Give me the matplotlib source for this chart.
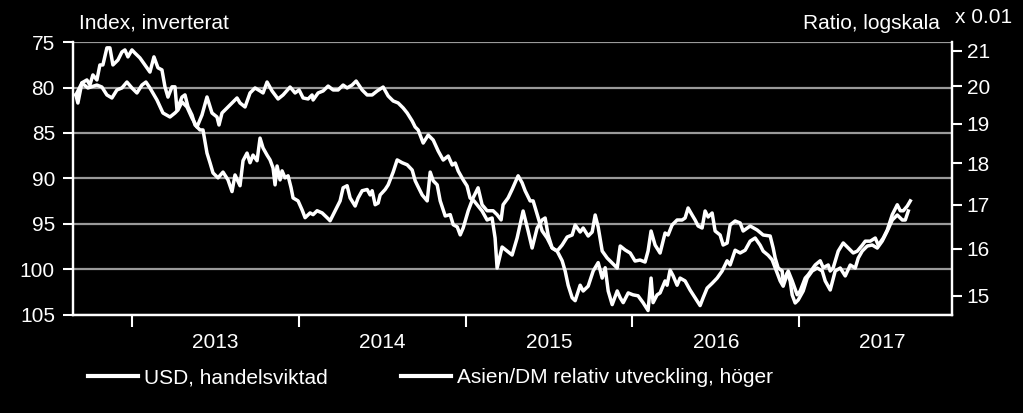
import numpy as np
import matplotlib.pyplot as plt
from matplotlib.ticker import FixedLocator, NullFormatter, NullLocator, FixedFormatter

plt.rcParams['font.family'] = ['Liberation Sans', 'DejaVu Sans']

# USD, handelsviktad (left axis, inverted) - decimal years
usd_t = [2012.664, 2012.700, 2012.736, 2012.790, 2012.820, 2012.850, 2012.880, 2012.910, 2012.940, 2012.970,
         2013.000, 2013.030, 2013.060, 2013.084, 2013.108, 2013.150, 2013.186, 2013.228, 2013.258, 2013.276,
         2013.300, 2013.330, 2013.360, 2013.390, 2013.420, 2013.450, 2013.480, 2013.510, 2013.522, 2013.540,
         2013.570, 2013.606, 2013.630, 2013.648, 2013.678, 2013.708, 2013.738, 2013.768, 2013.786, 2013.810,
         2013.840, 2013.876, 2013.906, 2013.948, 2013.978, 2014.002, 2014.026, 2014.056, 2014.080, 2014.086,
         2014.116, 2014.146, 2014.176, 2014.206, 2014.236, 2014.266, 2014.290, 2014.320, 2014.344, 2014.380,
         2014.410, 2014.440, 2014.470, 2014.506, 2014.536, 2014.566, 2014.596, 2014.626, 2014.650, 2014.680,
         2014.698, 2014.716, 2014.746, 2014.776, 2014.806, 2014.836, 2014.866, 2014.896, 2014.920, 2014.938,
         2014.956, 2014.986, 2015.009, 2015.027, 2015.051, 2015.075, 2015.099, 2015.129, 2015.159, 2015.177,
         2015.189, 2015.219, 2015.249, 2015.279, 2015.309, 2015.345, 2015.375, 2015.399, 2015.429, 2015.459,
         2015.477, 2015.495, 2015.519, 2015.549, 2015.579, 2015.609, 2015.639, 2015.657, 2015.687, 2015.705,
         2015.735, 2015.759, 2015.777, 2015.795, 2015.819, 2015.849, 2015.879, 2015.909, 2015.927, 2015.957,
         2015.987, 2016.016, 2016.046, 2016.076, 2016.094, 2016.112, 2016.136, 2016.166, 2016.196, 2016.214,
         2016.238, 2016.268, 2016.298, 2016.316, 2016.334, 2016.358, 2016.376, 2016.394, 2016.418, 2016.436,
         2016.454, 2016.478, 2016.496, 2016.526, 2016.544, 2016.568, 2016.586, 2016.616, 2016.646, 2016.664,
         2016.706, 2016.748, 2016.784, 2016.826, 2016.844, 2016.856, 2016.874, 2016.898, 2016.904, 2016.928,
         2016.946, 2016.958, 2016.976, 2016.994, 2017.024, 2017.048, 2017.078, 2017.108, 2017.138, 2017.156,
         2017.186, 2017.216, 2017.246, 2017.276, 2017.306, 2017.336, 2017.354, 2017.378, 2017.408, 2017.438,
         2017.468, 2017.498, 2017.528, 2017.558, 2017.588, 2017.618, 2017.636, 2017.654]
usd = [80.82, 79.51, 80.05, 79.73, 79.95, 80.82, 81.15, 80.27, 80.05, 79.40,
       80.05, 80.60, 79.73, 79.40, 80.05, 81.37, 82.80, 83.24, 82.80, 82.47,
       81.59, 82.14, 83.35, 84.34, 83.02, 81.04, 82.80, 83.24, 84.12, 82.80,
       82.25, 81.59, 81.15, 81.70, 82.14, 80.60, 80.05, 80.38, 80.60, 79.40,
       80.38, 81.26, 80.82, 79.95, 80.60, 80.27, 81.15, 81.26, 80.82, 81.37,
       80.60, 80.38, 79.84, 80.27, 80.27, 79.73, 80.05, 79.73, 79.29, 80.27,
       80.82, 80.82, 80.38, 79.95, 80.93, 81.48, 81.70, 82.25, 82.80, 83.68,
       84.34, 84.67, 86.10, 85.22, 85.77, 86.98, 87.97, 87.53, 88.52, 88.30,
       89.18, 90.16, 90.82, 92.14, 92.47, 93.02, 93.57, 94.56, 94.34, 96.54,
       99.84, 97.53, 97.97, 98.41, 96.54, 93.57, 95.77, 97.64, 95.44, 94.56,
       94.34, 96.21, 97.64, 97.97, 97.31, 96.43, 96.21, 95.11, 95.88, 95.44,
       96.32, 95.88, 94.01, 95.33, 97.97, 98.74, 99.29, 99.84, 97.42, 97.86,
       98.19, 99.07, 98.96, 99.18, 97.97, 95.77, 97.31, 98.19, 95.99, 96.21,
       95.11, 94.56, 94.56, 94.34, 93.24, 94.01, 94.56, 95.22, 95.44, 93.57,
       94.23, 93.79, 95.77, 96.21, 97.31, 97.09, 95.11, 94.67, 94.89, 95.77,
       95.22, 95.66, 96.21, 96.32, 97.64, 98.74, 99.84, 100.16, 101.48, 100.38,
       101.26, 102.80, 103.68, 103.35, 102.36, 100.93, 100.16, 99.84, 100.16, 101.26,
       102.25, 100.16, 99.84, 100.71, 99.51, 99.84, 98.74, 97.97, 97.42, 97.31,
       97.64, 96.87, 95.77, 94.56, 94.01, 94.56, 94.56, 93.57]

# Asien/DM relativ utveckling (right axis, log, units of 0.01)
ratio_t = [2012.664, 2012.676, 2012.700, 2012.730, 2012.748, 2012.766, 2012.790, 2012.808, 2012.826, 2012.850,
           2012.868, 2012.886, 2012.916, 2012.940, 2012.958, 2012.976, 2013.000, 2013.018, 2013.048, 2013.090,
           2013.108, 2013.132, 2013.156, 2013.180, 2013.198, 2013.216, 2013.240, 2013.258, 2013.270, 2013.300,
           2013.318, 2013.336, 2013.360, 2013.378, 2013.408, 2013.426, 2013.450, 2013.468, 2013.486, 2013.516,
           2013.546, 2013.576, 2013.600, 2013.618, 2013.636, 2013.648, 2013.666, 2013.690, 2013.708, 2013.726,
           2013.750, 2013.768, 2013.786, 2013.810, 2013.828, 2013.846, 2013.858, 2013.870, 2013.888, 2013.900,
           2013.918, 2013.936, 2013.954, 2013.966, 2013.996, 2014.020, 2014.038, 2014.068, 2014.086, 2014.110,
           2014.140, 2014.170, 2014.188, 2014.218, 2014.248, 2014.266, 2014.290, 2014.308, 2014.338, 2014.356,
           2014.380, 2014.410, 2014.428, 2014.440, 2014.458, 2014.476, 2014.488, 2014.518, 2014.536, 2014.566,
           2014.590, 2014.620, 2014.650, 2014.680, 2014.698, 2014.710, 2014.740, 2014.770, 2014.788, 2014.806,
           2014.830, 2014.848, 2014.878, 2014.908, 2014.926, 2014.950, 2014.968, 2014.986, 2015.016, 2015.045,
           2015.075, 2015.099, 2015.129, 2015.165, 2015.189, 2015.213, 2015.225, 2015.255, 2015.279, 2015.315,
           2015.339, 2015.357, 2015.387, 2015.405, 2015.435, 2015.459, 2015.489, 2015.519, 2015.549, 2015.579,
           2015.597, 2015.615, 2015.639, 2015.657, 2015.687, 2015.705, 2015.735, 2015.765, 2015.795, 2015.819,
           2015.837, 2015.855, 2015.879, 2015.909, 2015.927, 2015.945, 2015.975, 2016.004, 2016.034, 2016.064,
           2016.094, 2016.112, 2016.124, 2016.148, 2016.166, 2016.196, 2016.208, 2016.226, 2016.244, 2016.268,
           2016.286, 2016.316, 2016.346, 2016.376, 2016.406, 2016.424, 2016.448, 2016.478, 2016.508, 2016.538,
           2016.568, 2016.586, 2016.616, 2016.646, 2016.676, 2016.706, 2016.736, 2016.766, 2016.784, 2016.814,
           2016.838, 2016.856, 2016.886, 2016.904, 2016.934, 2016.958, 2016.988, 2017.006, 2017.036, 2017.054,
           2017.096, 2017.126, 2017.144, 2017.174, 2017.186, 2017.204, 2017.234, 2017.264, 2017.294, 2017.324,
           2017.348, 2017.378, 2017.396, 2017.426, 2017.456, 2017.474, 2017.504, 2017.528, 2017.558, 2017.588,
           2017.606, 2017.624, 2017.648, 2017.666]
ratio = [19.77, 19.55, 20.10, 20.18, 20.04, 20.32, 20.18, 20.60, 20.60, 21.09,
         21.09, 20.60, 20.74, 20.97, 21.03, 20.83, 21.03, 20.94, 20.80, 20.52,
         20.40, 20.83, 20.52, 20.46, 19.99, 19.71, 19.99, 19.99, 19.37, 19.71,
         19.77, 19.45, 19.23, 18.97, 18.84, 18.84, 18.25, 18.01, 17.76, 17.64,
         17.78, 17.59, 17.31, 17.71, 17.55, 17.45, 18.06, 18.25, 18.01, 18.20,
         18.06, 18.63, 18.38, 18.20, 18.08, 17.88, 17.47, 17.93, 17.59, 17.81,
         17.64, 17.69, 17.40, 17.16, 17.09, 16.88, 16.70, 16.81, 16.77, 16.86,
         16.81, 16.70, 16.63, 16.86, 17.09, 17.40, 17.45, 17.16, 16.97, 17.16,
         17.33, 17.36, 17.23, 17.33, 17.00, 17.04, 17.23, 17.36, 17.47, 17.78,
         18.08, 18.01, 17.96, 17.83, 17.57, 17.47, 17.23, 17.09, 17.78, 17.57,
         17.47, 17.09, 16.74, 16.77, 16.54, 16.49, 16.31, 16.47, 16.86, 17.16,
         17.40, 17.00, 16.86, 16.86, 16.77, 16.65, 17.00, 17.16, 17.36, 17.69,
         17.52, 17.33, 17.09, 17.09, 16.70, 16.40, 16.24, 16.02, 15.95, 15.74,
         15.52, 15.22, 14.96, 14.90, 15.22, 15.10, 15.20, 15.52, 15.70, 15.37,
         15.59, 15.10, 14.82, 15.10, 14.96, 14.86, 15.06, 15.02, 15.00, 14.86,
         14.70, 15.37, 14.86, 15.02, 15.06, 15.31, 15.22, 15.54, 15.42, 15.22,
         15.37, 15.31, 15.12, 14.96, 14.80, 14.96, 15.16, 15.26, 15.37, 15.52,
         15.74, 15.65, 15.97, 15.91, 15.97, 16.17, 16.24, 16.08, 15.95, 15.86,
         15.76, 15.59, 15.31, 15.20, 15.52, 15.31, 15.02, 15.10, 15.37, 15.44,
         15.65, 15.74, 15.59, 15.65, 15.52, 15.59, 15.95, 16.13, 16.02, 15.91,
         15.95, 16.08, 16.17, 16.17, 16.24, 16.08, 16.24, 16.42, 16.77, 17.00,
         16.86, 16.86, 16.97, 17.09]

years = [2013, 2014, 2015, 2016, 2017]
left_ticks = [75, 80, 85, 90, 95, 100, 105]
right_ticks = [15, 16, 17, 18, 19, 20, 21]

FS = 15
GRID = '#9a9a9a'


def main():
  fig = plt.figure(figsize=(10.23, 4.13), dpi=100, facecolor='black')
  ax = fig.add_axes([0.0714, 0.2373, 0.8592, 0.6610])
  ax.set_facecolor('black')
  ax2 = ax.twinx()

  l1, = ax.plot(usd_t, usd, color='white', lw=2.5, label='USD, handelsviktad')
  l2, = ax2.plot(ratio_t, ratio, color='white', lw=2.5, label='Asien/DM relativ utveckling, höger')

  # x axis: ticks at year starts, labels mid-year
  ax.set_xlim(2012.647, 2017.916)
  ax.xaxis.set_major_locator(FixedLocator(years))
  ax.xaxis.set_major_formatter(NullFormatter())
  ax.xaxis.set_minor_locator(FixedLocator([y + 0.5 for y in years]))
  ax.xaxis.set_minor_formatter(FixedFormatter([str(y) for y in years]))
  ax.tick_params(axis='x', which='major', length=8.5, width=1.5, color='white')
  ax.tick_params(axis='x', which='minor', length=0, pad=13, labelsize=FS, labelcolor='white')

  # left axis, inverted
  ax.set_ylim(105, 75)
  ax.set_yticks(left_ticks)
  ax.tick_params(axis='y', length=7, width=1.5, color='white', pad=6, labelsize=FS, labelcolor='white')
  ax.grid(axis='y', color=GRID, lw=1.6)
  ax.set_axisbelow(True)

  # right axis, log scale
  ax2.set_yscale('log')
  ax2.set_ylim(14.61, 21.26)
  ax2.yaxis.set_major_locator(FixedLocator(right_ticks))
  ax2.yaxis.set_major_formatter(FixedFormatter([str(v) for v in right_ticks]))
  ax2.yaxis.set_minor_locator(NullLocator())
  ax2.tick_params(axis='y', length=7, width=1.5, color='white', pad=3.5, labelsize=FS, labelcolor='white')

  for a in (ax, ax2):
    a.spines['top'].set_visible(False)
    for s in ('left', 'right', 'bottom'):
      a.spines[s].set_color('white')
      a.spines[s].set_linewidth(1.6)

  fig.text(0.0772, 0.9443, 'Index, inverterat', color='white', fontsize=FS, ha='left', va='center')
  fig.text(0.9189, 0.9420, 'Ratio, logskala', color='white', fontsize=FS, ha='right', va='center')
  fig.text(0.9335, 0.9575, 'x 0.01', color='white', fontsize=FS, ha='left', va='center')

  leg = fig.legend(handles=[l1, l2], loc='center left', bbox_to_anchor=(0.086, 0.085),
                   ncol=2, frameon=False, fontsize=FS, handlelength=2.4, handletextpad=0.3,
                   columnspacing=3.5, borderpad=0, borderaxespad=0)
  for t in leg.get_texts():
    t.set_color('white')
  for h in leg.legend_handles:
    h.set_linewidth(3)

  plt.savefig('out.png', dpi=100, facecolor='black')


if __name__ == "__main__":
  main()
